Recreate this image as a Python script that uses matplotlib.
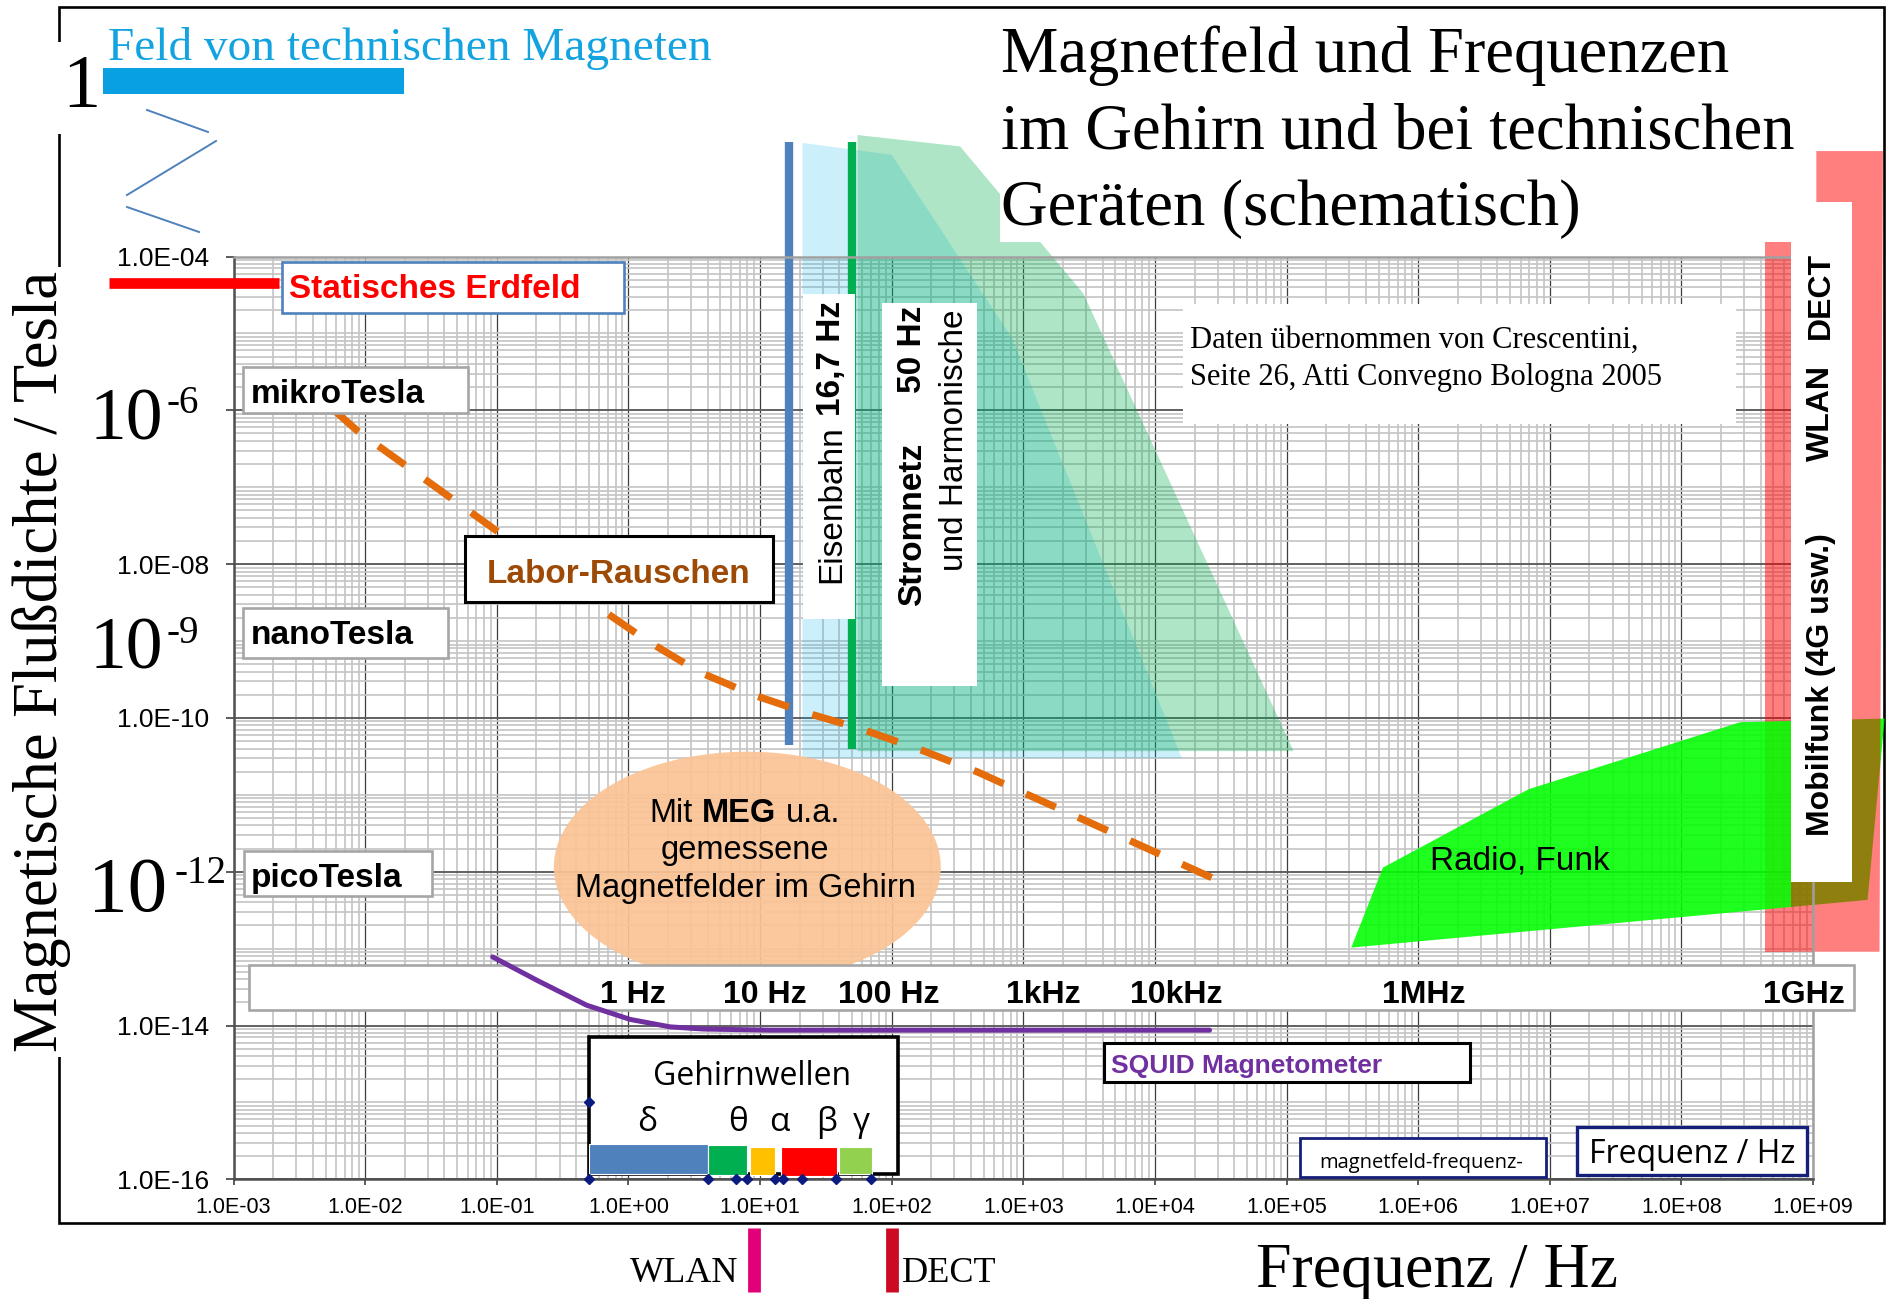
import numpy as np
import matplotlib
matplotlib.use("Agg")
import matplotlib.pyplot as plt
from matplotlib.patches import Rectangle, Polygon
from matplotlib.lines import Line2D
from matplotlib.transforms import Affine2D, blended_transform_factory
from matplotlib.ticker import LogLocator, FuncFormatter, NullFormatter

# ---------------------------------------------------------------- data
# static earth field (frequency span of the bar, flux density)
erdfeld_hz = [1.14e-4, 2.2e-3]
erdfeld_t = 4.5e-5

# laboratory noise floor
noise_hz = [5.8e-3, 8.85e-3, 0.11, 0.58, 1.36, 3.4, 8.8, 23, 57, 169, 443, 1.1e3, 2.9e3,
            7.2e3, 3.6e4]
noise_t = [1.0e-6, 5.3e-7, 2.4e-8, 2.8e-9, 1.03e-9, 4.0e-10, 2.0e-10, 1.15e-10, 7.3e-11,
           3.8e-11, 2.0e-11, 9.9e-12, 4.7e-12, 2.33e-12, 6.7e-13]

# SQUID magnetometer sensitivity
squid_hz = [0.093, 0.2, 0.48, 1.03, 2.07, 3.7, 12, 100, 1000, 2.6e4]
squid_t = [7.8e-14, 3.9e-14, 1.84e-14, 1.2e-14, 9.6e-15, 9.0e-15, 8.7e-15, 8.7e-15, 8.7e-15, 8.7e-15]

# railway (16.7 Hz) and mains (50 Hz) lines
rail_hz = 16.7
mains_hz = 50
rail_t = [4.4e-11, 3.1e-3]
mains_t = [4.0e-11, 3.1e-3]

# field zones of railway and mains with harmonics
rail_zone_hz = [21, 100, 820, 1.6e4, 21]
rail_zone_t = [3.0e-3, 2.1e-3, 8.7e-6, 3.0e-11, 3.0e-11]
mains_zone_hz = [55, 331, 2.86e3, 1.13e5, 55]
mains_zone_t = [3.8e-3, 2.7e-3, 3.3e-5, 3.7e-11, 3.7e-11]

# radio / broadcast zone
radio_hz = [3.1e5, 5.4e5, 6.9e6, 2.8e8, 3.5e9, 2.6e9]
radio_t = [1.03e-13, 1.13e-12, 1.18e-11, 8.8e-11, 9.8e-11, 4.3e-13]

# mobile / WLAN / DECT band
mobil_low_hz = [4.3e8, 6.8e8]
mobil_low_t = [9.1e-14, 1.56e-4]
mobil_high_hz = [6.8e8, 6.8e8, 1.06e9, 1.06e9, 3.4e9, 3.2e9]
mobil_high_t = [9.1e-14, 1.56e-4, 1.56e-4, 2.35e-3, 2.35e-3, 9.1e-14]

# MEG region (centre and half-width in decades)
meg_center_hz = 8.0
meg_center_t = 1.15e-12
meg_half_decades = (1.47, 1.50)

# brain wave bands
wave_names = ["δ", "θ", "α", "β", "γ"]
wave_lo_hz = [0.5, 4, 8.4, 14.5, 39.5]
wave_hi_hz = [4, 8, 13, 38.5, 71]
wave_top_t = [2.88e-16, 2.79e-16, 2.67e-16, 2.6e-16, 2.6e-16]
wave_bottom_t = [1.17e-16, 1.14e-16, 1.15e-16, 1.1e-16, 1.17e-16]
wave_marks_hz = [0.5, 4, 6.6, 8, 13, 15, 21, 38, 70]
wave_marks_t = 1e-16

# frequency strip labels
freq_labels = ["1 Hz", "10 Hz", "100 Hz", "1kHz", "10kHz", "1MHz", "1GHz"]
freq_label_hz = [1, 10, 100, 1e3, 1e4, 1e6, 1e9]

# pulse frequencies of WLAN / DECT
pulse_names = ["WLAN", "DECT"]
pulse_hz = [9, 100]

# ---------------------------------------------------------------- style
SERIF = ["Liberation Serif", "DejaVu Serif"]
SANS = ["Liberation Sans", "DejaVu Sans"]
OPEN = ["Open Sans", "DejaVu Sans"]

wave_colors = ["#4F81BD", "#00B050", "#FFC000", "#FF0000", "#92D050"]
freq_label_shift = [4, 5, -3, 20, 21, 6, -9]

W, H = 1888, 1299
fig = plt.figure(figsize=(W / 100, H / 100), dpi=100)
px = Affine2D().scale(1 / W, -1 / H).translate(0, 1) + fig.transFigure
renderer = fig.canvas.get_renderer()

ax = fig.add_axes([233.6 / W, 1 - 1179.3 / H, (1813 - 233.6) / W, (1179.3 - 256.5) / H])
ax.set_xscale("log")
ax.set_yscale("log")
ax.set_xlim(1e-3, 1e9)
ax.set_ylim(1e-16, 1e-4)
ax.set_axisbelow(True)

ax.xaxis.set_major_locator(LogLocator(base=10, numticks=30))
ax.xaxis.set_minor_locator(LogLocator(base=10, subs=np.arange(2, 10), numticks=300))
ax.yaxis.set_major_locator(LogLocator(base=100, numticks=30))
ax.yaxis.set_minor_locator(LogLocator(base=100, subs=list(range(2, 10)) + list(range(10, 100, 10)),
                                      numticks=300))


def sci_label(v, pos):
    e = int(round(np.log10(v)))
    if e in (-6, -12):
        return ""
    return f"1.0E{e:+03d}"


ax.xaxis.set_major_formatter(FuncFormatter(sci_label))
ax.yaxis.set_major_formatter(FuncFormatter(sci_label))
ax.xaxis.set_minor_formatter(NullFormatter())
ax.yaxis.set_minor_formatter(NullFormatter())

ax.grid(which="minor", color="#C6C6C6", linewidth=1.25)
ax.grid(which="major", axis="x", color="#3C3C3C", linewidth=0.9)
ax.grid(which="major", axis="y", color="#606060", linewidth=1.4)

ax.tick_params(axis="y", which="major", direction="out", length=5.8, width=1.2, pad=12,
               labelsize=19, color="#404040")
ax.tick_params(axis="x", which="major", direction="out", length=4.5, width=1.2, pad=8,
               labelsize=15.5, color="#404040")
ax.tick_params(which="minor", length=0)
for lab in ax.get_xticklabels() + ax.get_yticklabels():
    lab.set_family(SANS)
for side in ("left", "bottom"):
    ax.spines[side].set_color("#505050")
    ax.spines[side].set_linewidth(1.8)
for side in ("top", "right"):
    ax.spines[side].set_color("#A0A0A0")
    ax.spines[side].set_linewidth(1.8)


# ---------------------------------------------------------------- helpers
def px_box(x0, y0, x1, y1, fc="white", ec="none", lw=0.0, z=5):
    ax.add_patch(Rectangle((x0, y0), x1 - x0, y1 - y0, transform=px, facecolor=fc,
                           edgecolor=ec, linewidth=lw, zorder=z, clip_on=False))


def px_text(x, y, s, size, family=SANS, weight="normal", color="black", ha="left",
            va="baseline", rot=0, z=6, **kw):
    return ax.text(x, y, s, transform=px, fontsize=size, family=family, fontweight=weight,
                   color=color, ha=ha, va=va, rotation=rot, rotation_mode="anchor",
                   zorder=z, clip_on=False, **kw)


def advance(s, size, family, weight):
    t = fig.text(0, 0, "|" + s + "|", fontsize=size, family=family, fontweight=weight)
    w = t.get_window_extent(renderer).width
    t.set_text("||")
    w -= t.get_window_extent(renderer).width
    t.remove()
    return w


def rich(x, y, parts, size, family=SANS, color="black", rot=0, align="left", z=6):
    widths = [advance(s, size, family, w) for s, w in parts]
    total = sum(widths)
    pos = {"left": 0.0, "center": -total / 2, "right": -total}[align]
    for (s, w), wd in zip(parts, widths):
        if s.strip():
            if rot == 0:
                px_text(x + pos, y, s, size, family, w, color, z=z)
            else:
                px_text(x, y - pos, s, size, family, w, color, rot=rot, z=z)
        pos += wd


# ---------------------------------------------------------------- marks in data space
# railway and mains field zones
ax.add_patch(Polygon(np.column_stack([rail_zone_hz, rail_zone_t]), closed=True,
                     facecolor="#00B0F0", alpha=0.2, edgecolor="none", zorder=1.0, clip_on=False))
ax.add_patch(Polygon(np.column_stack([mains_zone_hz, mains_zone_t]), closed=True,
                     facecolor="#00B050", alpha=0.32, edgecolor="none", zorder=1.1, clip_on=False))

# railway / mains lines
ax.plot([rail_hz, rail_hz], rail_t, color="#4F81BD", lw=6, solid_capstyle="butt",
        zorder=2, clip_on=False)
ax.plot([mains_hz, mains_hz], mains_t, color="#00B050", lw=6, solid_capstyle="butt",
        zorder=2, clip_on=False)

# mobile band (lower part under radio zone)
ax.add_patch(Rectangle((mobil_low_hz[0], mobil_low_t[0]), mobil_low_hz[1] - mobil_low_hz[0],
                       mobil_low_t[1] - mobil_low_t[0], facecolor="#FF0000", alpha=0.5,
                       edgecolor="none", zorder=1.2, clip_on=False))
# radio zone
ax.add_patch(Polygon(np.column_stack([radio_hz, radio_t]), closed=True, facecolor="#00FF00",
                     alpha=0.88, edgecolor="none", zorder=1.3, clip_on=False))
# mobile band (upper part over radio zone)
ax.add_patch(Polygon(np.column_stack([mobil_high_hz, mobil_high_t]), closed=True,
                     facecolor="#FF0000", alpha=0.5, edgecolor="none", zorder=1.5, clip_on=False))

# laboratory noise
ax.plot(noise_hz, noise_t, color="#E46C0A", lw=5.2, dashes=(4.5, 3.4), dash_capstyle="butt",
        solid_joinstyle="round", zorder=2.5, clip_on=False)

# earth field
ax.plot(erdfeld_hz, [erdfeld_t, erdfeld_t], color="#FF0000", lw=7.7, solid_capstyle="butt",
        zorder=6, clip_on=False)

# MEG region drawn as a circle in log-log space
ang = np.linspace(0, 2 * np.pi, 200)
meg_x = 10 ** (np.log10(meg_center_hz) + meg_half_decades[0] * np.cos(ang))
meg_y = 10 ** (np.log10(meg_center_t) + meg_half_decades[1] * np.sin(ang))
ax.add_patch(Polygon(np.column_stack([meg_x, meg_y]), closed=True, facecolor="#FBC495",
                     alpha=0.92, edgecolor="none", zorder=3))

# SQUID sensitivity
ax.plot(squid_hz, squid_t, color="#7030A0", lw=3.6, solid_capstyle="round",
        solid_joinstyle="round", zorder=4.5)

# brain wave bands
for lo, hi, top, bot, col in zip(wave_lo_hz, wave_hi_hz, wave_top_t, wave_bottom_t, wave_colors):
    ax.add_patch(Rectangle((lo, bot), hi - lo, top - bot, facecolor=col, edgecolor="white",
                           linewidth=0.8, zorder=5.5, clip_on=False))
ax.plot(wave_marks_hz, [wave_marks_t] * len(wave_marks_hz), ls="none", marker="D",
        markersize=5.5, color="#0B1B80", zorder=6, clip_on=False)
ax.plot([wave_marks_hz[0]], [1e-15], ls="none", marker="D", markersize=5.5,
        color="#0B1B80", zorder=6, clip_on=False)

# WLAN / DECT pulse marks below the axis
bt = blended_transform_factory(ax.transData, px)
for name, f, col in zip(pulse_names, pulse_hz, ["#E2007A", "#CC0A22"]):
    ax.add_line(Line2D([f, f], [1228, 1291.7], transform=bt, color=col, lw=9.2,
                       solid_capstyle="butt", zorder=6, clip_on=False))

# ---------------------------------------------------------------- boxes & labels
# outer frame
ax.add_patch(Rectangle((59.4, 6.6), 1884 - 59.4, 1223 - 6.6, transform=px, facecolor="none",
                       edgecolor="black", linewidth=1.9, zorder=0.2, clip_on=False))

# title
px_box(1000, 12, 1800, 241.7, z=5)
for yb, line in zip([71.7, 148.3, 225.0],
                    ["Magnetfeld und Frequenzen", "im Gehirn und bei technischen",
                     "Geräten (schematisch)"]):
    px_text(1001, yb, line, 46.5, SERIF, z=6)

# technical magnets above the axis break
px_text(62, 106.7, "1", 55, SERIF, z=6, bbox=dict(fc="white", ec="none", pad=8))
px_text(108, 60, "Feld von technischen Magneten", 34, SERIF, color="#12A3E0", z=6)
px_box(103, 67.7, 404, 94, fc="#08A0E0", z=6)
for (x0, y0), (x1, y1) in [((147, 110), (208, 132)), ((216, 141), (127, 195)),
                           ((127, 207), (199, 232))]:
    ax.add_line(Line2D([x0, x1], [y0, y1], transform=px, color="#4F81BD", lw=1.4,
                       zorder=6, clip_on=False))

# axis labels
px_text(42, 662, "Magnetische Flußdichte / Tesla", 45, SERIF, ha="center", va="center",
        rot=90, z=6, bbox=dict(fc="white", ec="none", pad=3))
px_text(1436.5, 1286.7, "Frequenz / Hz", 46, SERIF, ha="center", z=6)

# large powers of ten
for (x10, yb10, s10, xe, ybe, e) in [(90, 440, 53, 167, 413, "-6"),
                                     (90, 668.3, 53, 167, 643.3, "-9"),
                                     (88, 910.7, 57, 175, 882.9, "-12")]:
    px_text(x10, yb10, "10", s10, SERIF, z=6)
    px_text(xe, ybe, e, 28, SERIF, z=6)

# unit boxes
for (x0, y0, x1, y1, label, yb) in [(243, 366.7, 468, 412.7, "mikroTesla", 403.3),
                                    (243, 608, 448, 658, "nanoTesla", 644.3),
                                    (244, 851.4, 432, 896.4, "picoTesla", 887)]:
    px_box(x0, y0, x1, y1, ec="#A6A6A6", lw=1.9, z=5)
    px_text(251, yb, label, 24, SANS, "bold", z=6)

# earth field label
px_box(282, 261.7, 624, 313.3, ec="#4F81BD", lw=1.9, z=5)
px_text(289, 298.3, "Statisches Erdfeld", 24, SANS, "bold", color="#FF0000", z=6)

# noise label
px_box(465.3, 536, 772.7, 601.7, ec="black", lw=2.2, z=5)
px_text(487, 582.7, "Labor-Rauschen", 24, SANS, "bold", color="#9C4A06", z=6)

# railway label
px_box(802.6, 293.6, 855, 618.6, z=5)
rich(840, 582.9, [("Eisenbahn", "normal"), (" ", "normal"), ("16,7 Hz", "bold")], 24,
     SANS, rot=90)

# mains label
px_box(882, 302.5, 976.7, 686.4, z=5)
px_text(920.6, 606, "Stromnetz", 24, SANS, "bold", rot=90, z=6)
px_text(920.6, 306, "50 Hz", 24, SANS, "bold", ha="right", rot=90, z=6)
px_text(962.7, 309.6, "und Harmonische", 24, SANS, ha="right", rot=90, z=6)

# source note
px_box(1183, 304, 1736, 424, z=5)
px_text(1189.6, 347.6, "Daten übernommen von Crescentini,", 22, SERIF, z=6)
px_text(1189.6, 385.4, "Seite 26, Atti Convegno Bologna 2005", 22, SERIF, z=6)

# mobile band label
px_box(1791, 201.7, 1852, 882, z=5)
px_text(1829, 836, "Mobilfunk (4G usw.)", 23, SANS, "bold", rot=90, z=6)
px_text(1829, 460.6, "WLAN", 23, SANS, "bold", rot=90, z=6)
px_text(1829, 339.4, "DECT", 23, SANS, "bold", rot=90, z=6)

# radio label
px_text(1520, 870, "Radio, Funk", 24, SANS, ha="center", z=6)

# MEG text
rich(745, 821.7, [("Mit", "normal"), (" ", "normal"), ("MEG", "bold"), (" ", "normal"),
                  ("u.a.", "normal")], 23.5, SANS, align="center", z=3.2)
px_text(745, 859.2, "gemessene", 23.5, SANS, ha="center", z=3.2)
px_text(745, 896.7, "Magnetfelder im Gehirn", 23.5, SANS, ha="center", z=3.2)

# frequency strip
px_box(249, 965, 1853.5, 1010, ec="#A6A6A6", lw=1.9, z=4)
for lab, f, dx in zip(freq_labels, freq_label_hz, freq_label_shift):
    xf = ax.transData.transform((f, 1e-10))[0] * W / fig.bbox.width
    px_text(xf + dx, 1002.7, lab, 23, SANS, "bold", ha="center", z=4.1)

# SQUID label
px_box(1103.8, 1043.3, 1470, 1081.7, ec="black", lw=2.2, z=5)
px_text(1111, 1073.3, "SQUID Magnetometer", 19, SANS, "bold", color="#7030A0", z=6)

# brain wave box
px_box(589.3, 1036.7, 898.3, 1174, ec="black", lw=2.6, z=5)
px_text(751.7, 1085, "Gehirnwellen", 23, OPEN, ha="center", z=6)
for name, xg in zip(wave_names, [646.7, 738.3, 779.3, 826.7, 861.7]):
    px_text(xg, 1131, name, 24, OPEN, ha="center", z=6)

# small boxes at the lower right
px_box(1300, 1138, 1545.8, 1177, ec="#16207A", lw=2.0, z=5)
px_text(1421, 1168.3, "magnetfeld-frequenz-", 14.5, OPEN, ha="center", z=6)
px_box(1577, 1126.7, 1807, 1175, ec="#16207A", lw=2.4, z=5)
px_text(1692, 1163.3, "Frequenz / Hz", 23, OPEN, ha="center", z=6)

# WLAN / DECT names
px_text(738.3, 1281.7, "WLAN", 26, SERIF, ha="right", z=6)
px_text(901.7, 1281.7, "DECT", 26, SERIF, z=6)

fig.savefig("out.png", dpi=100, facecolor="white")
